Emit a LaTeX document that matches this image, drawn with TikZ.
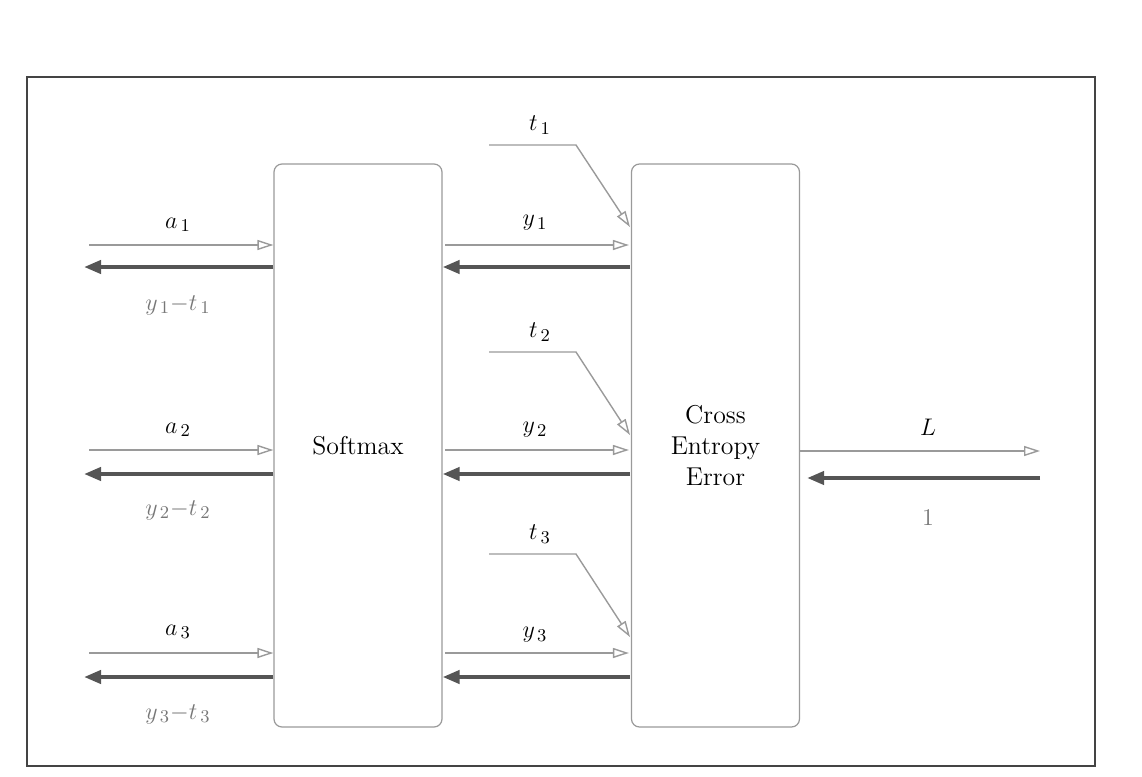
\documentclass[tikz,border=0pt]{standalone}
\usetikzlibrary{arrows.meta}
\definecolor{thinc}{HTML}{9A9A9A}
\definecolor{thickc}{HTML}{555555}
\definecolor{labc}{HTML}{777777}
\definecolor{framec}{HTML}{444444}
\newcommand{\sbs}[1]{_{\,#1}}
\begin{document}
\begin{tikzpicture}[x=0.5pt,y=-0.5pt,
  fw/.style={draw=thinc,line width=0.7pt,-{Triangle[open,length=8pt,width=5pt]}},
  bw/.style={draw=thickc,line width=2pt,-{Triangle[length=8.5pt,width=6.5pt]}},
  tl/.style={draw=thinc,line width=0.7pt,-{Triangle[open,length=8pt,width=5pt]}},
  blk/.style={draw=thinc,line width=0.6pt,rounded corners=4pt,minimum width=84pt,minimum height=281.5pt,inner sep=0pt,align=center,font=\fontsize{12.9}{15.5}\selectfont},
  lab/.style={font=\fontsize{12.9}{15.5}\selectfont,text=black},
  glab/.style={font=\fontsize{12.9}{15.5}\selectfont,text=labc}]
\useasboundingbox (0,0) rectangle (1142,777);
\draw[framec,line width=0.8pt] (27,77) rectangle (1095,766);
\node[blk] (sm) at (358,445.5) {Softmax};
\node[blk] (ce) at (715.5,445.5) {Cross\\Entropy\\Error};
% left side
\foreach \i/\yf/\yb/\ya/\yl in {1/245/267/225/305, 2/450/474/430/510, 3/653/677/632/714}{
  \coordinate (a\i s) at (89,\yf);
  \draw[fw] (a\i s) -- (a\i s -| sm.west);
  \coordinate (g\i e) at (84,\yb);
  \draw[bw] (g\i e -| sm.west) -- (g\i e);
  \node[lab] (la\i) at (178,\ya) {$a\sbs{\i}$};
  \node[glab] (lg\i) at (178,\yl) {$y\sbs{\i}{-}t\sbs{\i}$};
}
% middle
\foreach \i/\yf/\yb/\ya in {1/245/267/223, 2/450/474/430, 3/653/677/635}{
  \coordinate (y\i s) at (445,\yf);
  \draw[fw] (y\i s) -- ([xshift=-1pt]y\i s -| ce.west);
  \coordinate (d\i s) at (630,\yb);
  \draw[bw] (d\i s) -- (d\i s -| sm.east);
  \node[lab] (ly\i) at (535,\ya) {$y\sbs{\i}$};
}
\foreach \i/\yt/\ye/\yl in {1/145/227/125, 2/352/435/332, 3/554/637/534}{
  \coordinate (t\i s) at (489,\yt);
  \coordinate (t\i k) at (576,\yt);
  \coordinate (t\i e) at (630,\ye);
  \draw[tl] (t\i s) -- (t\i k) -- (t\i e);
  \node[lab] (lt\i) at (540,\yl) {$t\sbs{\i}$};
}
% right
\coordinate (Le) at (1040,451);
\draw[fw] (Le -| ce.east) -- (Le);
\coordinate (Os) at (1040,478);
\draw[bw] (Os) -- ([xshift=3.5pt]Os -| ce.east);
\node[lab] (lL) at (928,427) {$L$};
\node[glab] (l1) at (928,518) {$1$};
\end{tikzpicture}
\end{document}
